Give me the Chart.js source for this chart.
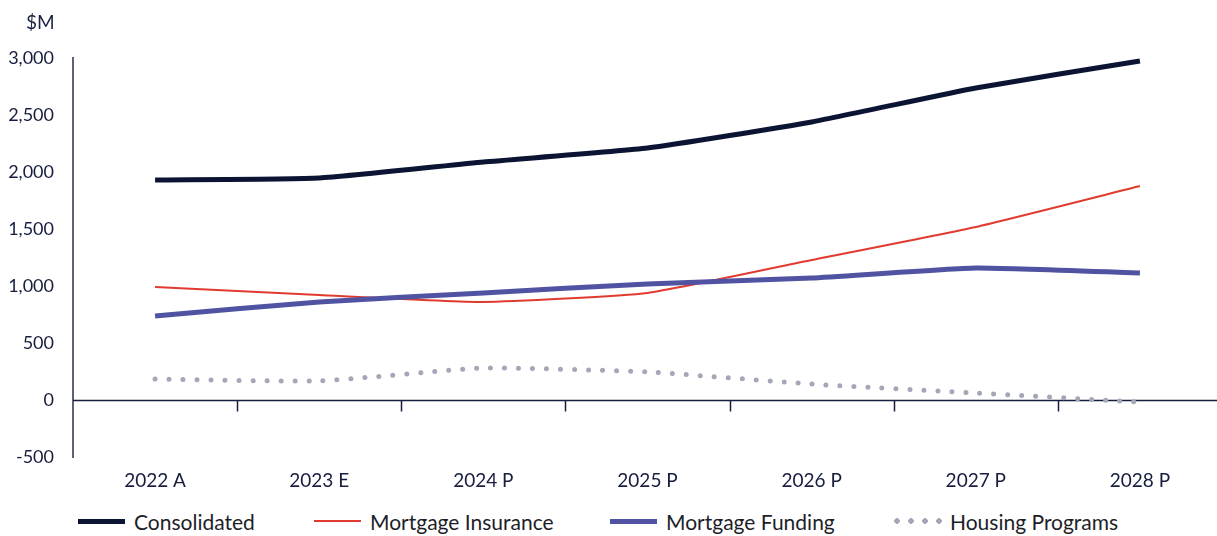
<!DOCTYPE html>
<html>
<head>
<meta charset="utf-8">
<script src="https://cdn.jsdelivr.net/npm/chart.js@4"></script>
<style>
  html, body { margin: 0; padding: 0; background: #fff; overflow: hidden; }
  body { width: 1217px; height: 536px; position: relative; font-family: Lato, "Open Sans", sans-serif; }
  #wrap { position: absolute; left: 0; top: 0; width: 1222px; height: 490px; }
  #unit { position: absolute; left: 26px; top: 10px; font-size: 19px; color: #1a2142; }
  .leg { position: absolute; top: 508px; height: 26px; display: flex; align-items: center; font-size: 21px; color: #1e1e28; }
  .leg .s { width: 47px; margin-right: 9px; }
</style>
</head>
<body>
<div id="wrap"><canvas id="c"></canvas></div>
<div id="unit">$M</div>
<div id="legend"></div>
<script>
const years = ["2022 A", "2023 E", "2024 P", "2025 P", "2026 P", "2027 P", "2028 P"];
const consolidated     = [1930, 1947, 2088, 2210, 2439, 2737, 2974];
const mortgageInsurance = [991, 921, 860, 939, 1228, 1518, 1877];
const mortgageFunding  = [737, 860, 939, 1018, 1070, 1158, 1114];
const housingPrograms  = [184, 167, 281, 246, 140, 61, -18];
const yTicks = [-500, 0, 500, 1000, 1500, 2000, 2500, 3000];

const navy = "#161d3e";

const series = [
  { label: "Consolidated",       data: consolidated,      color: "#0c1433", width: 5, dash: [] },
  { label: "Mortgage Insurance", data: mortgageInsurance, color: "#e13b30", width: 2, dash: [] },
  { label: "Mortgage Funding",   data: mortgageFunding,   color: "#5053a1", width: 5, dash: [] },
  { label: "Housing Programs",   data: housingPrograms,   color: "#a4a7b8", width: 5, dash: [0, 14] },
];

// zero line with category dividers
const zeroAxis = {
  id: "zeroAxis",
  beforeDatasetsDraw(chart) {
    const { ctx, chartArea, scales } = chart;
    const y0 = Math.round(scales.y.getPixelForValue(0)) + 0.5;
    ctx.save();
    ctx.strokeStyle = navy;
    ctx.lineWidth = 1.5;
    ctx.beginPath();
    ctx.moveTo(chartArea.left, y0);
    ctx.lineTo(chartArea.right, y0);
    for (let i = 1; i < years.length; i++) {
      const x = Math.round(scales.x.getPixelForValue(i - 0.5)) + 0.5;
      ctx.moveTo(x, y0);
      ctx.lineTo(x, y0 + 11);
    }
    ctx.stroke();
    ctx.restore();
  }
};

new Chart(document.getElementById("c"), {
  type: "line",
  data: {
    labels: years,
    datasets: series.map(s => ({
      label: s.label,
      data: s.data,
      borderColor: s.color,
      backgroundColor: s.color,
      borderWidth: s.width,
      borderDash: s.dash,
      borderCapStyle: s.dash.length ? "round" : "butt",
      pointRadius: 0,
      tension: 0.15,
    })).reverse()
  },
  options: {
    responsive: true,
    maintainAspectRatio: false,
    animation: false,
    layout: { padding: { top: 58, right: 0, left: 0, bottom: 0 } },
    plugins: { legend: { display: false }, tooltip: { enabled: false } },
    scales: {
      x: {
        offset: true,
        grid: { display: false },
        border: { display: false },
        ticks: { color: navy, font: { family: "Lato", size: 19 }, padding: 4, maxRotation: 0 },
        afterFit(s) { s.height = 33; }
      },
      y: {
        min: -500,
        max: 3000,
        afterBuildTicks(s) { s.ticks = yTicks.map(v => ({ value: v })); },
        grid: { display: false, drawTicks: false },
        border: { display: true, color: "#5c6378", width: 2 },
        ticks: {
          color: navy,
          font: { family: "Lato", size: 18 },
          padding: 19,
          callback: v => v.toLocaleString("en-US")
        },
        afterFit(s) { s.width = 73; }
      }
    }
  },
  plugins: [zeroAxis]
});

const legendPos = [78, 314, 610, 890];
const legend = document.getElementById("legend");
series.forEach((s, i) => {
  const item = document.createElement("div");
  item.className = "leg";
  item.style.left = legendPos[i] + "px";
  const sw = document.createElement("span");
  sw.className = "s";
  if (s.dash.length) {
    sw.style.height = "6px";
    sw.style.width = "52px";
    sw.style.marginRight = "8px";
    sw.style.background = `radial-gradient(circle, ${s.color} 2.6px, transparent 3px) 0 0 / 14px 6px repeat-x`;
  } else {
    sw.style.height = s.width + "px";
    sw.style.background = s.color;
  }
  const tx = document.createElement("span");
  tx.textContent = s.label;
  item.appendChild(sw);
  item.appendChild(tx);
  legend.appendChild(item);
});
</script>
</body>
</html>
